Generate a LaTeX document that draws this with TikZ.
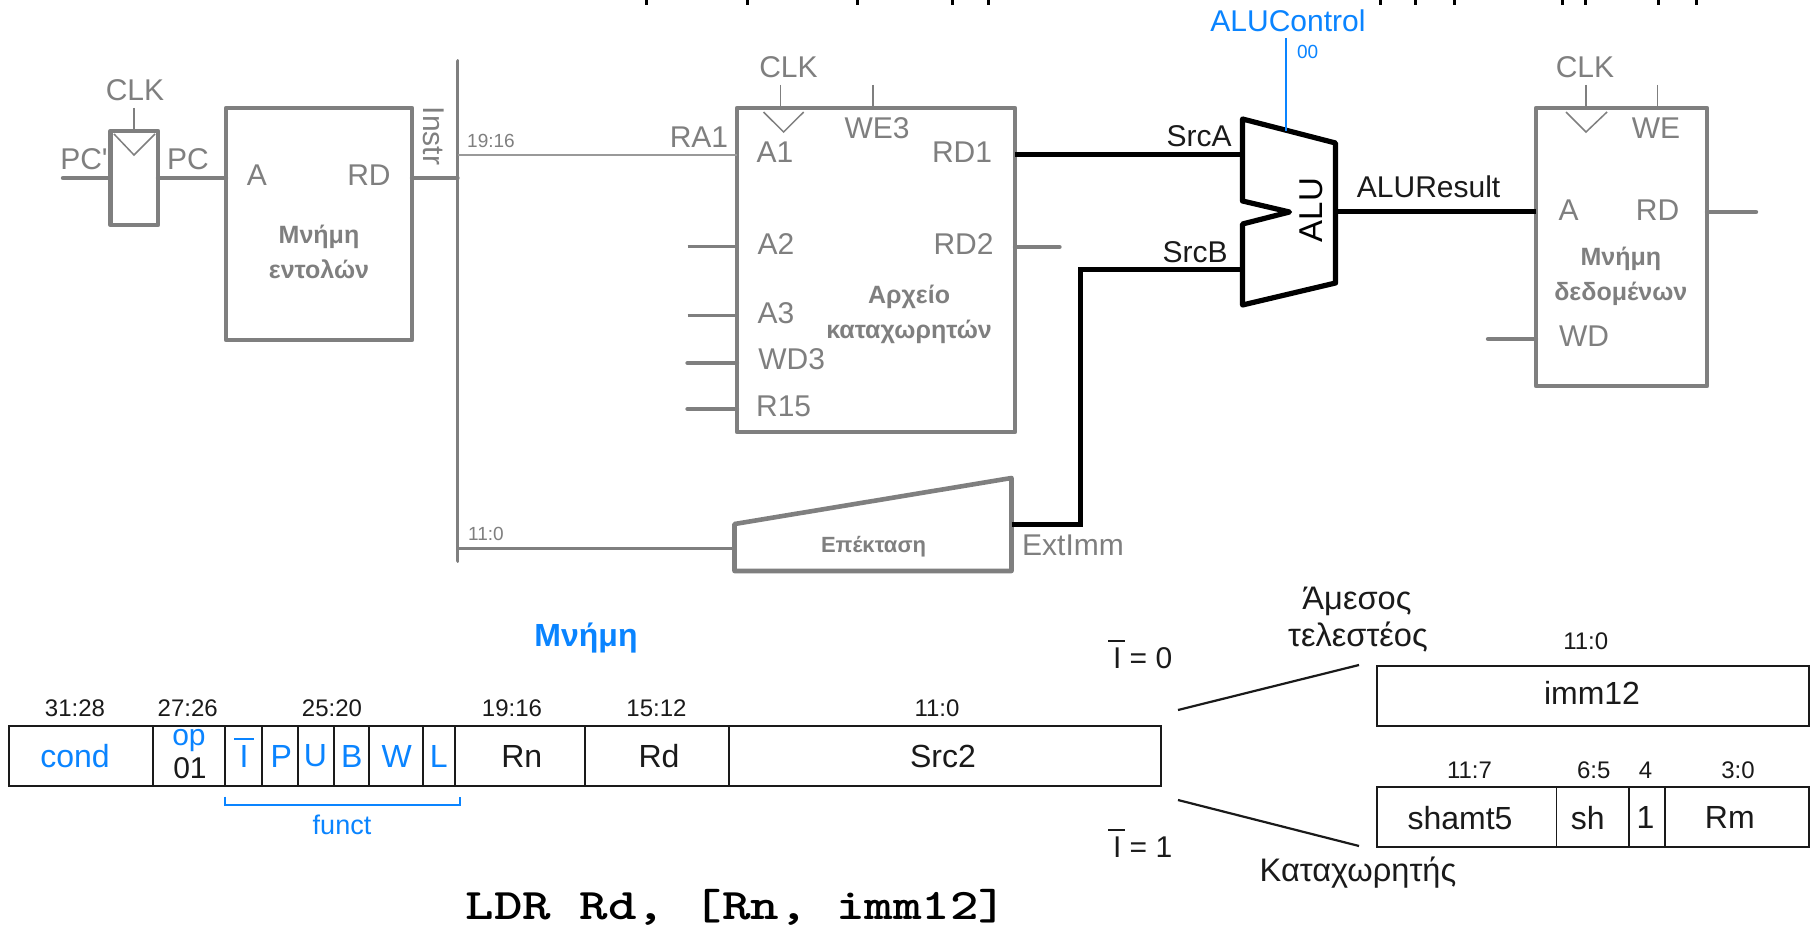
\documentclass[tikz,border=0pt]{standalone}
\usepackage{fontspec}
\setmainfont{Liberation Sans}
\definecolor{gr}{HTML}{7F7F7F}
\definecolor{lg}{HTML}{999999}
\definecolor{bl}{HTML}{0A84FF}
\definecolor{dk}{HTML}{1A1A1A}
\tikzset{
  lbl/.style={inner sep=0,outer sep=0,text=gr},
  t30/.style={lbl,font=\fontsize{15}{18}\selectfont},
  t19/.style={lbl,font=\fontsize{9.5}{11}\selectfont},
  tbold/.style={lbl,align=center,font=\fontsize{12.5}{17.5}\selectfont\bfseries},
  hdr/.style={inner sep=0,outer sep=0,text=dk,font=\fontsize{12}{14}\selectfont},
  fld/.style={inner sep=0,outer sep=0,text=dk,font=\fontsize{16}{18}\selectfont},
  fldb/.style={fld,text=bl},
  btxt/.style={inner sep=0,outer sep=0,text=dk,font=\fontsize{15}{18}\selectfont},
  gtxt/.style={inner sep=0,outer sep=0,text=dk,font=\fontsize{16.3}{18}\selectfont},
  gbox/.style={draw=gr,line width=2.2pt,fill=white,inner sep=0,outer sep=0,anchor=north west,line join=round},
  cell/.style={draw=dk,line width=0.9pt,inner sep=0,outer sep=0,anchor=north west},
  gthick/.style={draw=gr,line width=2.2pt,line cap=round},
  gmid/.style={draw=gr,line width=1.5pt},
  gthin/.style={draw=gr,line width=0.75pt},
  kwire/.style={draw=black,line width=2.5pt},
  bwire/.style={draw=bl,line width=1.4pt},
}
\begin{document}
\begin{tikzpicture}[x=0.5pt,y=-0.5pt]
\useasboundingbox (0,0) rectangle (1815,930);
\fill[white] (0,0) rectangle (1815,930);
% cropped line of text at the very top
\foreach \mx in {646,747,857,952,988,1380,1415,1454,1562,1585,1658,1696}
  \draw[black,line width=1.5pt] (\mx,0) -- (\mx,5);
% PC register
\node[gbox,minimum width=23.75pt,minimum height=47pt] (reg) at (110.5,131) {};
\coordinate (pcin) at (63,178);
\draw[gthick] (pcin) -- (reg.west |- pcin);
\coordinate (regclk) at (134,108);
\draw[gthin] (regclk) -- (reg.north -| regclk);
\draw[gthin] (114,134) -- (134,155) -- (155,134);
\node[t30] (clk1) at (135,90) {CLK};
\node[t30] (pcp) at (84,159) {PC\textquotesingle};
\node[t30] (pc) at (188,159) {PC};
% instruction memory
\node[gbox,minimum width=93pt,minimum height=116pt] (im) at (226,108) {};
\draw[gthick] (reg.east |- pcin) -- (im.west |- pcin);
\node[t30] (imA) at (257,175) {A};
\node[t30] (imRD) at (369,175) {RD};
\node[tbold] (imT) at (319,252) {Μνήμη\\εντολών};
% instruction bus
\coordinate (bustop) at (457.5,61);
\coordinate (busbot) at (457.5,561);
\draw[draw=gr,line width=1.9pt,line cap=round] (bustop) -- (busbot);
\draw[gthick] (im.east |- pcin) -- (bustop |- pcin);
\node[t30,rotate=-90] (instr) at (434,136) {Instr};
\node[t19] (b1916) at (491,141) {19:16};
\node[t19] (b110) at (486,534) {11:0};
% register file
\node[gbox,minimum width=139pt,minimum height=162pt] (rf) at (737,108) {};
\coordinate (ra1) at (737,155);
\draw[draw=lg,line width=1.4pt] (bustop |- ra1) -- (ra1);
\node[t30] (ra1t) at (699,137) {RA1};
\node[t30] (clk2) at (788.5,67) {CLK};
\draw[gthin] (780.5,85) -- (780.5,108);
\draw[gthin] (873,85) -- (873,108);
\draw[gthin] (763.5,112) -- (783.6,132) -- (803.7,112);
\node[t30] (we3) at (877,128) {WE3};
\node[t30] (a1) at (775,152) {A1};
\node[t30] (rd1) at (962,152) {RD1};
\node[t30] (a2) at (776,244) {A2};
\node[t30] (rd2) at (963.5,244) {RD2};
\node[t30] (a3) at (776,313) {A3};
\node[t30] (wd3) at (791.6,359) {WD3};
\node[t30] (r15) at (783.6,406) {R15};
\node[tbold] (rfT) at (909,314) {Αρχείο\\καταχωρητών};
\coordinate (a2w) at (687.5,247);
\coordinate (a3w) at (687.5,316);
\coordinate (wd3w) at (687.5,363);
\coordinate (r15w) at (687.5,409);
\draw[gmid] (a2w) -- (rf.west |- a2w);
\draw[gmid] (a3w) -- (rf.west |- a3w);
\draw[gthick] (wd3w) -- (rf.west |- wd3w);
\draw[gthick] (r15w) -- (rf.west |- r15w);
\coordinate (rd2w) at (1059.5,247);
\draw[gthick] (rf.east |- rd2w) -- (rd2w);
% extend
\coordinate (e1) at (734.5,524);
\coordinate (e2) at (1011.5,478);
\coordinate (e3) at (1011.5,571);
\coordinate (e4) at (734.5,571);
\draw[draw=gr,line width=2.3pt,line join=round] (e1) -- (e2) -- (e3) -- (e4) -- cycle;
\coordinate (extin) at (734.5,548);
\draw[gmid] (busbot |- extin) -- (extin);
\node[lbl,font=\fontsize{11}{13}\selectfont\bfseries] (extT) at (873.5,547) {Επέκταση};
\node[t30] (extimm) at (1073,545) {ExtImm};
% ALU
\coordinate (au1) at (1242.5,119);
\coordinate (au2) at (1335.5,143);
\coordinate (au3) at (1335.5,283);
\coordinate (au4) at (1242.5,305);
\coordinate (au5) at (1242.5,224);
\coordinate (au6) at (1289.5,212);
\coordinate (au7) at (1242.5,201);
\draw[draw=black,line width=2.6pt,line join=round] (au1) -- (au2) -- (au3) -- (au4) -- (au5) -- (au6) -- (au7) -- cycle;
\node[inner sep=0,outer sep=0,rotate=90,font=\fontsize{16.5}{18}\selectfont] (alu) at (1311,210) {ALU};
\coordinate (srcAw) at (1242.5,155);
\coordinate (srcBw) at (1242.5,270);
\coordinate (srcC) at (1080.5,270);
\coordinate (extC) at (1080.5,524);
\draw[kwire] (rf.east |- srcAw) -- (srcAw);
\draw[kwire,line join=miter] (e2 |- extC) -- (extC) -- (srcC) -- (srcBw);
\node[btxt] (srca) at (1199,136) {SrcA};
\node[btxt] (srcb) at (1195,252) {SrcB};
\node[inner sep=0,outer sep=0,text=bl,font=\fontsize{15}{18}\selectfont] (aluc) at (1288,21) {ALUControl};
\coordinate (alucT) at (1286,38);
\coordinate (alucB) at (1286,131);
\draw[bwire] (alucT) -- (alucB);
\node[inner sep=0,outer sep=0,text=bl,font=\fontsize{9.5}{11}\selectfont] (alu00) at (1307.7,52) {00};
% data memory
\node[gbox,minimum width=85.5pt,minimum height=139pt] (dm) at (1536,108) {};
\coordinate (resw) at (1337,212);
\draw[kwire] (resw) -- (dm.west |- resw);
\node[btxt] (alures) at (1428.6,187) {ALUResult};
\node[t30] (clk3) at (1585,67) {CLK};
\draw[gthin] (1586,85) -- (1586,108);
\draw[gthin] (1657.6,85) -- (1657.6,108);
\draw[gthin] (1566,112) -- (1586,132) -- (1607,112);
\node[t30] (we) at (1656,128) {WE};
\node[t30] (dmA) at (1568.6,210) {A};
\node[t30] (dmRD) at (1657.6,210) {RD};
\node[tbold] (dmT) at (1620.8,276) {Μνήμη\\δεδομένων};
\node[t30] (wd) at (1584,336) {WD};
\coordinate (wdw) at (1488,339);
\draw[gthick] (wdw) -- (dm.west |- wdw);
\coordinate (rdw) at (1756,212);
\draw[gthick] (dm.east |- rdw) -- (rdw);
% instruction format
\node[inner sep=0,outer sep=0,text=bl,font=\fontsize{16}{18}\selectfont\bfseries] (mem) at (586,638) {Μνήμη};
\foreach \nm/\xa/\cw in {c1/9/72,c2/153/36,c3/225/18.35,c4/261.7/17.95,c5/297.6/18,c6/333.6/17.6,c7/368.8/27.1,c8/423/16,c9/455/65,c10/585/72,c11/729/216}
  \node[cell,minimum width=\cw pt,minimum height=30pt] (\nm) at (\xa,725.7) {};
\node[hdr] (h1) at (75,708) {31:28};
\node[hdr] (h2) at (187.7,708) {27:26};
\node[hdr] (h3) at (332,708) {25:20};
\node[hdr] (h4) at (512,708) {19:16};
\node[hdr] (h5) at (656.5,708) {15:12};
\node[hdr] (h6) at (937,708) {11:0};
\node[fldb] (fcond) at (75,756) {cond};
\node[fldb,font=\fontsize{15}{18}\selectfont] (fop) at (189,741) {op};
\node[fld,font=\fontsize{15}{18}\selectfont] (f01) at (190,768) {01};
\node[fldb] (fI) at (244,756) {I};
\node[fldb] (fP) at (281.4,756) {P};
\node[fldb] (fU) at (315.4,756) {U};
\node[fldb] (fB) at (351.8,756) {B};
\node[fldb] (fW) at (396.8,756) {W};
\node[fldb] (fL) at (438.7,756) {L};
\draw[bl,line width=0.9pt] (234,739) -- (254,739);
\node[fld] (fRn) at (521.7,756) {Rn};
\node[fld] (fRd) at (659,756) {Rd};
\node[fld] (fSrc) at (943,756) {Src2};
\draw[bl,line width=1pt] (225,796.5) -- (225,805) -- (459.7,805) -- (459.7,796.5);
\node[inner sep=0,outer sep=0,text=bl,font=\fontsize{13.5}{15}\selectfont] (funct) at (342,825) {funct};
\node[inner sep=0,outer sep=0,text=black,anchor=west,font=\fontsize{21.8}{26}\ttfamily\bfseries] (ldr) at (465.6,907) {\scalebox{1.245}[1]{LDR Rd, [Rn, imm12]}};
% I = 0 / I = 1
\node[btxt,anchor=west] (i0) at (1113,658) {I = 0};
\draw[dk,line width=1pt] (1108,641) -- (1125,641);
\node[btxt,anchor=west] (i1) at (1113,846.7) {I = 1};
\draw[dk,line width=1pt] (1108,830) -- (1125,830);
\coordinate (l1a) at (1178,710);
\coordinate (l1b) at (1359,665);
\coordinate (l2a) at (1178,800);
\coordinate (l2b) at (1359,846);
\draw[dk,line width=1.1pt] (l1a) -- (l1b);
\draw[dk,line width=1.1pt] (l2a) -- (l2b);
\node[gtxt] (amesos) at (1357,601) {Άμεσος};
\node[gtxt] (telest) at (1358,636.7) {τελεστέος};
\node[gtxt] (katax) at (1358,873) {Καταχωρητής};
\node[hdr] (h7) at (1585.7,641) {11:0};
\node[cell,minimum width=216pt,minimum height=30pt] (immb) at (1376.8,665.7) {};
\node[fld] (fimm) at (1592,692.7) {imm12};
\foreach \nm/\xa/\cw in {d1/1376.8/89.85,d2/1556.5/36.25,d3/1629/17.8,d4/1664.6/72.05}
  \node[cell,minimum width=\cw pt,minimum height=30pt] (\nm) at (\xa,787.3) {};
\node[hdr] (h8) at (1469.5,770) {11:7};
\node[hdr] (h9) at (1593.8,770) {6:5};
\node[hdr] (h10) at (1645.6,770) {4};
\node[hdr] (h11) at (1738,770) {3:0};
\node[fld] (fsh5) at (1460,817.7) {shamt5};
\node[fld] (fsh) at (1587.7,817.7) {sh};
\node[fld] (f1) at (1645.6,817.7) {1};
\node[fld] (fRm) at (1729.8,817.7) {Rm};
\end{tikzpicture}
\end{document}
